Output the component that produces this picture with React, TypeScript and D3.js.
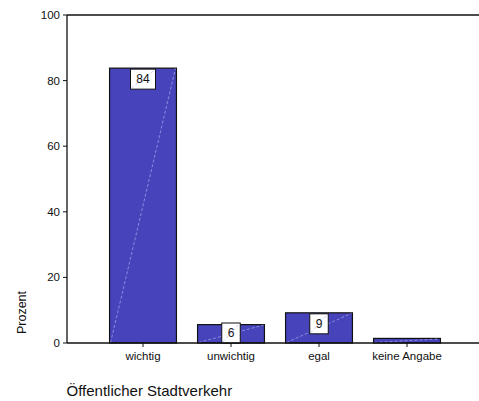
import React from "react";
import * as d3 from "d3";

const categories = ["wichtig", "unwichtig", "egal", "keine Angabe"];
const values = [83.8, 5.6, 9.2, 1.4];
const valueLabels = ["84", "6", "9", ""];
const yTicks = [0, 20, 40, 60, 80, 100];
const yTitle = "Prozent";
const xTitle = "Öffentlicher Stadtverkehr";

const W = 479;
const H = 401;
const left = 67;
const top = 15;
const bottom = 343;
const FONT = "Arial, 'Liberation Sans', Helvetica, sans-serif";
const BAR = "#4744bb";
const DIAG = "#a9a7ee";

export default function App() {
  const y = d3.scaleLinear().domain([0, 100]).range([bottom, top]);
  const x = d3
    .scaleBand<string>()
    .domain(categories)
    .range([99, 451])
    .paddingInner(0.24)
    .paddingOuter(0.12);
  const bw = x.bandwidth();

  return (
    <svg
      width={W}
      height={H}
      style={{ position: "absolute", left: 0, top: 0, background: "#fff" }}
      fontFamily={FONT}
    >
      <rect x={0} y={0} width={W} height={H} fill="#fff" />
      {/* bars */}
      {categories.map((c, i) => {
        const x0 = x(c)!;
        const yv = y(values[i]);
        return (
          <g key={c}>
            <rect
              x={x0}
              y={yv}
              width={bw}
              height={bottom - yv}
              fill={BAR}
              stroke="#111"
              strokeWidth={1.2}
            />
            <line
              x1={x0 + 1}
              y1={bottom - 0.5}
              x2={x0 + bw - 1}
              y2={yv + 0.5}
              stroke={DIAG}
              strokeWidth={0.7}
              strokeDasharray="3,2"
            />
          </g>
        );
      })}
      {/* value labels */}
      {categories.map((c, i) => {
        const lab = valueLabels[i];
        if (!lab) return null;
        const cx = x(c)! + bw / 2;
        const w = 12 + 6.5 * lab.length;
        const h = 20;
        let ty = y(values[i]) + 1;
        if (ty + h > bottom) ty = bottom - h;
        return (
          <g key={"l" + c}>
            <rect
              x={cx - w / 2}
              y={ty}
              width={w}
              height={h}
              fill="#fff"
              stroke="#111"
              strokeWidth={1}
            />
            <line
              x1={cx - w / 2 + 1}
              y1={ty + h - 1}
              x2={cx + w / 2 - 1}
              y2={ty + 1}
              stroke={DIAG}
              strokeWidth={0.6}
              strokeDasharray="3,2"
            />
            <text
              x={cx}
              y={ty + h / 2 + 4.3}
              textAnchor="middle"
              fontSize={12}
              fill="#111"
            >
              {lab}
            </text>
          </g>
        );
      })}
      {/* axes */}
      <line x1={left} y1={top} x2={W} y2={top} stroke="#111" strokeWidth={1.3} />
      <line x1={left} y1={top} x2={left} y2={bottom} stroke="#111" strokeWidth={1.3} />
      <line x1={left} y1={bottom} x2={W} y2={bottom} stroke="#111" strokeWidth={1.3} />
      {yTicks.map((t) => (
        <g key={"y" + t}>
          <line x1={left - 4} x2={left} y1={y(t)} y2={y(t)} stroke="#111" strokeWidth={1} />
          <text
            x={left - 7}
            y={y(t) + 4}
            textAnchor="end"
            fontSize={11.5}
            fill="#111"
          >
            {t}
          </text>
        </g>
      ))}
      {categories.map((c) => {
        const cx = x(c)! + bw / 2;
        return (
          <g key={"x" + c}>
            <line x1={cx} x2={cx} y1={bottom} y2={bottom + 4} stroke="#111" strokeWidth={1} />
            <text x={cx} y={360} textAnchor="middle" fontSize={11.5} fill="#111">
              {c}
            </text>
          </g>
        );
      })}
      <text
        transform={`translate(26,${312.5}) rotate(-90)`}
        textAnchor="middle"
        fontSize={12.5}
        fill="#111"
      >
        {yTitle}
      </text>
      <text x={66.5} y={396} fontSize={15} fill="#111">
        {xTitle}
      </text>
    </svg>
  );
}
